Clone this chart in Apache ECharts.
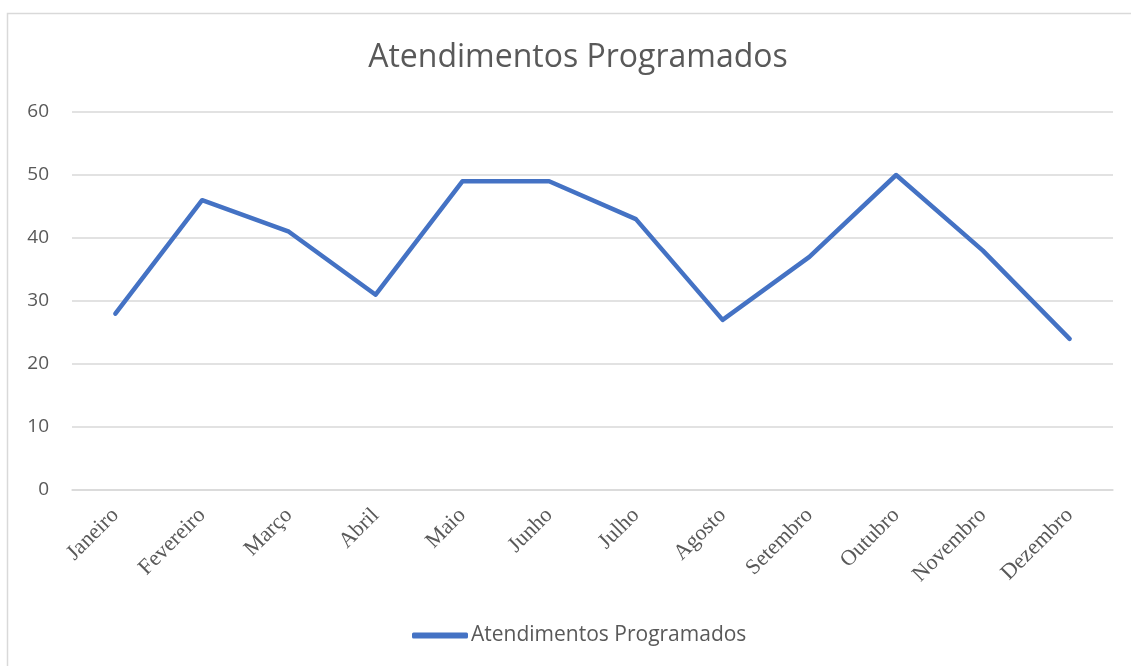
<!DOCTYPE html>
<html lang="pt">
<head>
  <meta charset="UTF-8">
  <title>Atendimentos Programados</title>
  <script src="https://cdn.jsdelivr.net/npm/echarts@6/dist/echarts.min.js"></script>
  <style>
    html, body { margin: 0; padding: 0; background: #fff; }
  </style>
</head>
<body>
<div id="chart" style="width: 1131px; height: 666px;"></div>

<script>
  // dados
  var months = ['Janeiro', 'Fevereiro', 'Março', 'Abril', 'Maio', 'Junho',
    'Julho', 'Agosto', 'Setembro', 'Outubro', 'Novembro', 'Dezembro'];
  var atendimentos = [28, 46, 41, 31, 49, 49, 43, 27, 37, 50, 38, 24];
  var seriesName = 'Atendimentos Programados';

  var myChart = echarts.init(document.getElementById('chart'));

  var option = {
    backgroundColor: '#fff',
    graphic: [{
      type: 'rect',
      shape: { x: 7.5, y: 13.5, width: 1200, height: 700 },
      style: { fill: 'none', stroke: '#d9d9d9', lineWidth: 1.5 },
      silent: true
    }],
    title: {
      text: seriesName,
      left: 573,
      top: 37,
      textAlign: 'center',
      textStyle: {
        fontFamily: 'Open Sans',
        fontSize: 32,
        fontWeight: 'normal',
        color: '#595959'
      }
    },
    legend: {
      bottom: 15,
      left: 407,
      itemWidth: 56,
      itemHeight: 6,
      itemGap: 4,
      textStyle: {
        fontFamily: 'Open Sans',
        fontSize: 21,
        color: '#595959',
        padding: [0, 0, 0, -2]
      },
      data: [{ name: seriesName, icon: 'roundRect' }]
    },
    grid: {
      left: 72,
      right: 18,
      top: 112,
      bottom: 176
    },
    xAxis: {
      type: 'category',
      data: months,
      boundaryGap: true,
      axisLine: { lineStyle: { color: '#d9d9d9', width: 1.5 } },
      axisTick: { show: false },
      axisLabel: {
        rotate: 45,
        interval: 0,
        margin: 22,
        fontFamily: 'Liberation Serif',
        fontSize: 22,
        color: '#595959'
      }
    },
    yAxis: {
      type: 'value',
      min: 0,
      max: 60,
      interval: 10,
      axisLine: { show: false },
      axisTick: { show: false },
      axisLabel: {
        margin: 23,
        fontFamily: 'Open Sans',
        fontSize: 19,
        color: '#595959'
      },
      splitLine: { lineStyle: { color: '#d9d9d9', width: 1.5 } }
    },
    series: [{
      name: seriesName,
      type: 'line',
      data: atendimentos,
      showSymbol: false,
      symbol: 'none',
      lineStyle: { color: '#4472C4', width: 4.5, cap: 'round', join: 'round' },
      itemStyle: { color: '#4472C4' }
    }]
  };

  myChart.setOption(option);
</script>
</body>
</html>
